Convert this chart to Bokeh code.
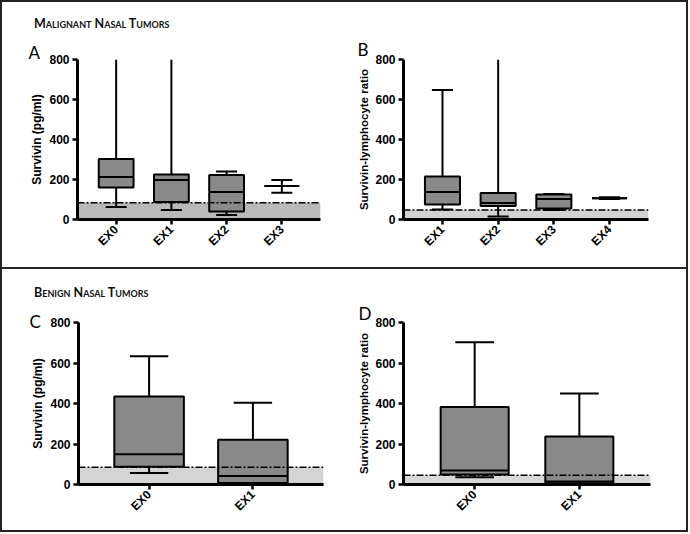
import math
from bokeh.plotting import figure
from bokeh.models import (ColumnDataSource, FactorRange, Span, BoxAnnotation,
                          Div, FixedTicker)
from bokeh.layouts import column, row
from bokeh.transform import dodge
from bokeh.embed import file_html
from bokeh.resources import INLINE

# ---------------- data ----------------
A_cats = ["EX0", "EX1", "EX2", "EX3"]
A_low = [62, 47, 22, 134]
A_q1 = [160, 88, 40, 167]
A_med = [212, 198, 137, 167]
A_q3 = [302, 225, 223, 167]
A_high = [800, 800, 240, 197]
A_cut = 84

B_cats = ["EX1", "EX2", "EX3", "EX4"]
B_low = [50, 15, 48, 103]
B_q1 = [75, 68, 55, 106]
B_med = [137, 83, 102, 106]
B_q3 = [215, 133, 125, 106]
B_high = [648, 800, 128, 111]
B_cut = 47

C_cats = ["EX0", "EX1"]
C_low = [57, 2]
C_q1 = [88, 7]
C_med = [150, 42]
C_q3 = [435, 221]
C_high = [633, 404]
C_cut = 85

D_cats = ["EX0", "EX1"]
D_low = [36, 2]
D_q1 = [49, 6]
D_med = [69, 15]
D_q3 = [383, 237]
D_high = [702, 450]
D_cut = 46

Y_TICKS = [0, 200, 400, 600, 800]
Y_MAX = 800

TICK_FONT = "Liberation Sans"
BOX_FILL = "#898989"


def panel(cats, low, q1, med, q3, high, cut, ylabel, letter, *,
          width, height, bl, br, bt, bb, pad, box_w, cap_w, shade,
          letter_dx, letter_drop, ylabel_size, ylabel_standoff):
    p = figure(x_range=FactorRange(factors=cats, range_padding=pad,
                                   range_padding_units="absolute"),
               y_range=(0, Y_MAX), width=width, height=height,
               output_backend="svg", toolbar_location=None,
               min_border_left=bl, min_border_right=br,
               min_border_top=bt, min_border_bottom=bb)
    p.outline_line_color = None
    p.grid.visible = False
    p.background_fill_color = "white"
    p.border_fill_color = "white"

    # panel letter as the plot title
    p.title.text = letter
    p.title.align = "left"
    p.title.offset = -letter_dx
    p.title.text_font = "Lato"
    p.title.text_font_style = "normal"
    p.title.text_font_size = "17px"
    p.title.text_color = "black"
    p.title.vertical_align = "bottom"
    p.title.standoff = -letter_drop

    src = ColumnDataSource(dict(cat=cats, low=low, q1=q1, med=med, q3=q3,
                                high=high))

    # shaded area below cut-off
    p.add_layout(BoxAnnotation(bottom=0, top=cut, fill_color=shade,
                               fill_alpha=1, line_color=None,
                               level="underlay"))

    # whiskers
    p.segment(x0="cat", x1="cat", y0="q3", y1="high", source=src,
              line_color="black", line_width=2)
    p.segment(x0="cat", x1="cat", y0="low", y1="q1", source=src,
              line_color="black", line_width=2)
    # caps (only where the whisker ends inside the axis)
    hc = [c for c, h in zip(cats, high) if h < Y_MAX]
    hv = [h for h in high if h < Y_MAX]
    cap_src_hi = ColumnDataSource(dict(cat=hc, v=hv))
    cap_src_lo = ColumnDataSource(dict(cat=list(cats), v=list(low)))
    for cs in (cap_src_hi, cap_src_lo):
        p.segment(x0=dodge("cat", -cap_w / 2, range=p.x_range), y0="v",
                  x1=dodge("cat", cap_w / 2, range=p.x_range), y1="v",
                  source=cs, line_color="black", line_width=2)

    # boxes
    p.vbar(x="cat", width=box_w, bottom="q1", top="q3", source=src,
           fill_color=BOX_FILL, line_color="black", line_width=2)
    # medians
    p.segment(x0=dodge("cat", -box_w / 2, range=p.x_range), y0="med",
              x1=dodge("cat", box_w / 2, range=p.x_range), y1="med",
              source=src, line_color="black", line_width=2)

    # cut-off line
    p.add_layout(Span(location=cut, dimension="width", line_color="black",
                      line_width=1.5, line_dash="7 2 2 2"))

    # axes
    for ax in (p.xaxis[0], p.yaxis[0]):
        ax.axis_line_width = 3
        ax.axis_line_color = "black"
        ax.major_tick_line_width = 2.5
        ax.major_tick_line_color = "black"
        ax.major_tick_out = 5
        ax.major_tick_in = 0
        ax.minor_tick_line_color = None
        ax.major_label_text_font = TICK_FONT
        ax.major_label_text_font_style = "bold"
        ax.major_label_text_font_size = "12px"
        ax.major_label_text_color = "black"
        ax.major_label_standoff = 3
    p.yaxis.ticker = FixedTicker(ticks=Y_TICKS)
    p.yaxis.axis_label = ylabel
    p.yaxis.axis_label_text_font = TICK_FONT
    p.yaxis.axis_label_text_font_style = "bold"
    p.yaxis.axis_label_text_font_size = ylabel_size
    p.yaxis.axis_label_text_color = "black"
    p.yaxis.axis_label_standoff = ylabel_standoff
    p.xaxis.major_label_orientation = math.pi / 4
    p.x_range.factor_padding = 0
    return p


pA = panel(A_cats, A_low, A_q1, A_med, A_q3, A_high, A_cut,
           "Survivin (pg/ml)", "A", width=343, height=231, bl=75, br=25,
           bt=23, bb=48, pad=0.2, box_w=0.63, cap_w=0.38, shade="#b9b9b9",
           letter_dx=49, letter_drop=7, ylabel_size="12px",
           ylabel_standoff=2)
pB = panel(B_cats, B_low, B_q1, B_med, B_q3, B_high, B_cut,
           "Survivin-lymphocyte ratio", "B", width=341, height=231, bl=58,
           br=38, bt=23, bb=48, pad=0.2, box_w=0.63, cap_w=0.38,
           shade="#d2d2d2", letter_dx=46, letter_drop=0,
           ylabel_size="11.5px", ylabel_standoff=2)
pC = panel(C_cats, C_low, C_q1, C_med, C_q3, C_high, C_cut,
           "Survivin (pg/ml)", "C", width=343, height=229, bl=76, br=22,
           bt=20, bb=46, pad=0.18, box_w=0.67, cap_w=0.37, shade="#d4d4d4",
           letter_dx=49, letter_drop=19, ylabel_size="12px",
           ylabel_standoff=2)
pD = panel(D_cats, D_low, D_q1, D_med, D_q3, D_high, D_cut,
           "Survivin-lymphocyte ratio", "D", width=341, height=229, bl=58,
           br=36, bt=21, bb=45, pad=0.18, box_w=0.65, cap_w=0.37,
           shade="#d8d8d8", letter_dx=45, letter_drop=2,
           ylabel_size="11.5px", ylabel_standoff=2)

TITLE_STYLE = ("font-family:Lato;font-weight:bold;font-variant:small-caps;"
               "font-size:12.5px;line-height:14px;color:#111;"
               "padding:{pt}px 0 0 32px;")
t1 = Div(text=f'<div style="{TITLE_STYLE.format(pt=15)}">'
              'Malignant Nasal Tumors</div>',
         width=684, height=34, margin=0)
t2 = Div(text=f'<div style="{TITLE_STYLE.format(pt=17)}">'
              'Benign Nasal Tumors</div>',
         width=684, height=34, margin=0,
         styles={"border-top": "2px solid #222", "box-sizing": "border-box"})

root = column(t1, row(pA, pB), t2, row(pC, pD),
              styles={"border": "2px solid #222"})

open("out.html", "w").write(file_html(root, INLINE))
